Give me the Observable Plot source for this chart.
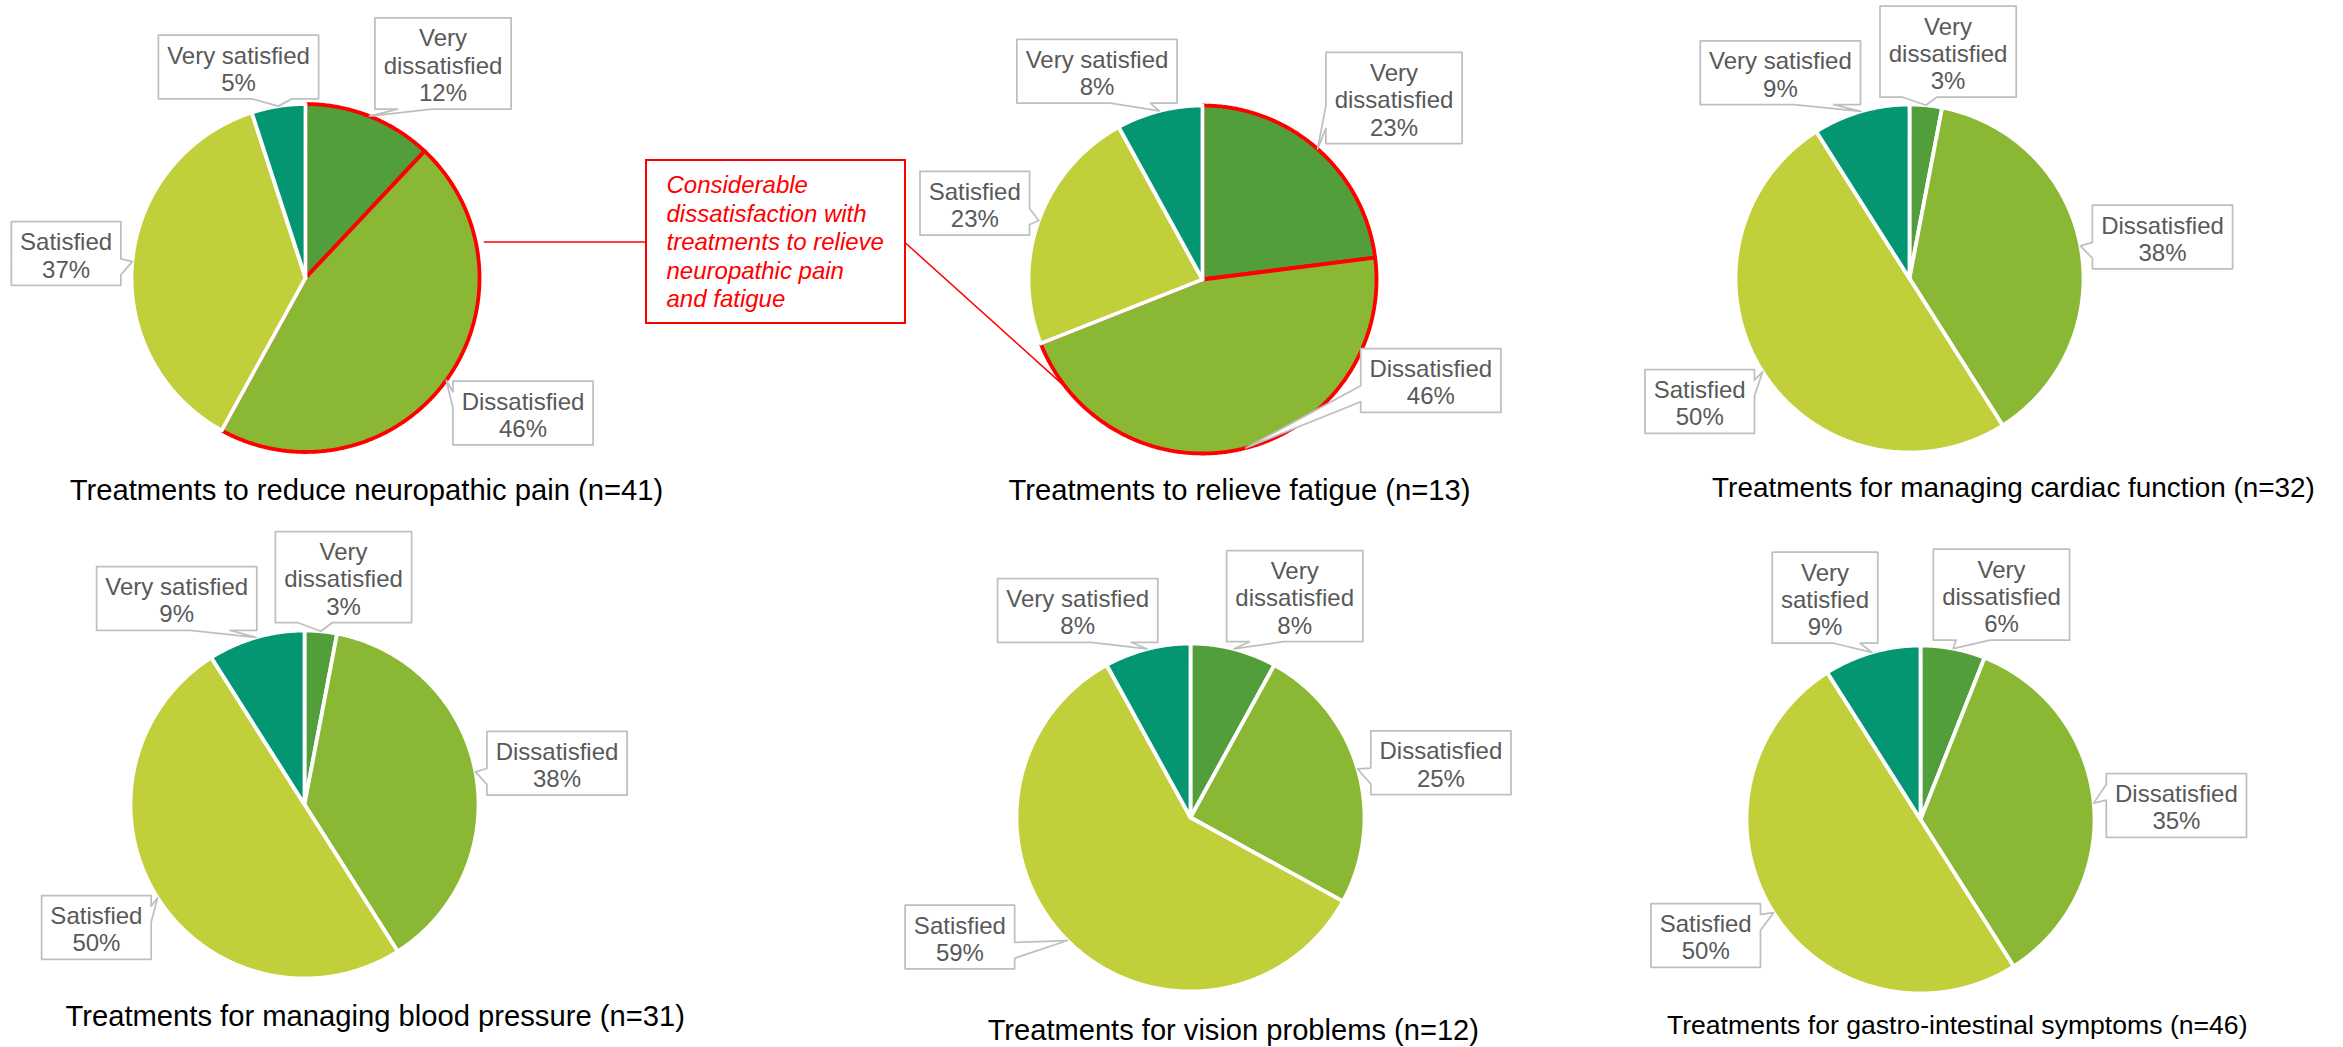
<!DOCTYPE html>
<html>
<head>
<meta charset="utf-8">
<script src="https://cdn.jsdelivr.net/npm/d3@7"></script>
<script src="https://cdn.jsdelivr.net/npm/@observablehq/plot@0.6"></script>
<style>
  html, body { margin: 0; padding: 0; background: #ffffff; }
  #chart { width: 2343px; height: 1047px; overflow: hidden; }
</style>
</head>
<body>
<div id="chart"></div>
<script>
// ---------------- DATA ----------------
const categories = ["Very dissatisfied", "Dissatisfied", "Satisfied", "Very satisfied"];
const treatments = [
  "Treatments to reduce neuropathic pain",
  "Treatments to relieve fatigue",
  "Treatments for managing cardiac function",
  "Treatments for managing blood pressure",
  "Treatments for vision problems",
  "Treatments for gastro-intestinal symptoms"
];
const sampleSizes = [41, 13, 32, 31, 12, 46];
const veryDissatisfied = [12, 23, 3, 3, 8, 6];
const dissatisfied = [46, 46, 38, 38, 25, 35];
const satisfied = [37, 23, 50, 50, 59, 50];
const verySatisfied = [5, 8, 9, 9, 8, 9];
const annotationLines = ["Considerable", "dissatisfaction with", "treatments to relieve", "neuropathic pain", "and fatigue"];

// ---------------- LAYOUT & STYLE ----------------
const W = 2343, H = 1047;
const FONT = "'Liberation Sans', Arial, Helvetica, sans-serif";
const colors = ["#529E3A", "#8BB834", "#C1CF3B", "#049672"];
const pieCenters = [[305, 277.5], [1202, 279], [1909, 278], [304, 804], [1190, 817], [1920, 819]];
const radius = 174;
const highlightedPies = [0, 1];
const highlightedCats = [0, 1];
// label box centre offsets from pie centre (px), order: VD, D, S, VS
const labelBoxOffsets = [
  [[137.5, -214.5], [217.5, 135], [-239.4, -24.4], [-67, -211]],
  [[191.5, -181.5], [228.3, 101], [-227.7, -76.3], [-105.5, -208.2]],
  [[38.6, -226.8], [253, -41.5], [-209.8, 122.9], [-129.1, -205.8]],
  [[39, -227.3], [252.5, -41.3], [-208.1, 123], [-127.8, -206]],
  [[104.2, -221.3], [250.4, -54.7], [-230.6, 119.5], [-112.8, -207.1]],
  [[81, -224.9], [255.9, -14], [-214.8, 116], [-95.5, -221.8]]
];
const labelWrap = [
  [1, 0, 0, 0], [1, 0, 0, 0], [1, 0, 0, 0], [1, 0, 0, 0], [1, 0, 0, 0], [1, 0, 0, 1]
];
// title: dx from pie centre, baseline dy from pie centre, font size
const titleLayout = [[61, 221.5, 29.2], [37, 220, 29.2], [104, 218, 27.9], [70.7, 221, 29.2], [42.8, 222, 29.1], [36.7, 214, 26.6]];
const annBox = {x1: 646, x2: 905, y1: 160, y2: 323, textX: 666, textY: 172.5};
const connectorEndAngle = 231.6; // degrees clockwise from 12 o'clock on pie 2

const LABEL_FS = 24, LABEL_LH = 1.14;
const SLICE_STROKE = 3.8;

// ---------------- BUILD ----------------
const series = [veryDissatisfied, dissatisfied, satisfied, verySatisfied];
const pie = d3.pie().sort(null).value(d => d);

const ctx = document.createElement("canvas").getContext("2d");
ctx.font = `${LABEL_FS}px ${FONT}`;

const slicesRed = [], slicesWhite = [], callouts = [], labels = [], titles = [];

function pt(cx, cy, r, a) { return [cx + r * Math.sin(a), cy - r * Math.cos(a)]; }

function calloutPath(bx, by, w, h, tx, ty) {
  const cx = bx + w / 2, cy = by + h / 2;
  const dxPos = (tx - cx) / w, dyPos = (ty - cy) / h;
  const vertical = Math.abs(dyPos) > Math.abs(dxPos);
  const xg1 = dxPos > 0 ? 7 : 2, xg2 = dxPos > 0 ? 10 : 5;
  const yg1 = dyPos > 0 ? 7 : 2, yg2 = dyPos > 0 ? 10 : 5;
  const x1 = bx + w * xg1 / 12, x2 = bx + w * xg2 / 12;
  const y1 = by + h * yg1 / 12, y2 = by + h * yg2 / 12;
  const l = bx, r = bx + w, t = by, b = by + h;
  const inside = tx >= l && tx <= r && ty >= t && ty <= b;
  const p = [[l, t]];
  if (!inside && vertical && dyPos < 0) p.push([x1, t], [tx, ty], [x2, t]);
  p.push([r, t]);
  if (!inside && !vertical && dxPos > 0) p.push([r, y1], [tx, ty], [r, y2]);
  p.push([r, b]);
  if (!inside && vertical && dyPos > 0) p.push([x2, b], [tx, ty], [x1, b]);
  p.push([l, b]);
  if (!inside && !vertical && dxPos < 0) p.push([l, y2], [tx, ty], [l, y1]);
  p.push([l, t]);
  return p;
}

treatments.forEach((name, p) => {
  const [cx, cy] = pieCenters[p];
  const values = series.map(s => s[p]);
  const arcs = pie(values);
  arcs.forEach((arc, j) => {
    const key = `${p}-${j}`;
    const rows = [];
    rows.push({key, cat: categories[j], x: cx, y: cy});
    const steps = Math.max(2, Math.ceil((arc.endAngle - arc.startAngle) / (Math.PI / 360)));
    for (let k = 0; k <= steps; k++) {
      const a = arc.startAngle + (arc.endAngle - arc.startAngle) * k / steps;
      const [x, y] = pt(cx, cy, radius, a);
      rows.push({key, cat: categories[j], x, y});
    }
    rows.push({key, cat: categories[j], x: cx, y: cy});
    const red = highlightedPies.includes(p) && highlightedCats.includes(j);
    (red ? slicesRed : slicesWhite).push(...rows);

    // label
    const mid = (arc.startAngle + arc.endAngle) / 2;
    const [tx, ty] = pt(cx, cy, radius, mid);
    const words = categories[j];
    const nameLines = labelWrap[p][j] ? words.split(" ") : [words];
    const lines = [...nameLines, `${values[j]}%`];
    const w = d3.max(lines, s => ctx.measureText(s).width) + 17.5;
    const h = lines.length * LABEL_FS * LABEL_LH + 9;
    const [ox, oy] = labelBoxOffsets[p][j];
    const bcx = cx + ox, bcy = cy + oy;
    calloutPath(bcx - w / 2, bcy - h / 2, w, h, tx, ty).forEach(([x, y]) => callouts.push({key, x, y}));
    labels.push({x: bcx, y: bcy, text: lines.join("\n")});
  });
  const [tdx, tdy, tfs] = titleLayout[p];
  titles.push({x: cx + tdx, y: cy + tdy, fs: tfs, text: `${name} (n=${sampleSizes[p]})`});
});

// connectors for the annotation
const annCy = (annBox.y1 + annBox.y2) / 2;
const [c1x, c1y] = pieCenters[0];
const c1start = c1x + Math.sqrt(radius * radius - (annCy - c1y) ** 2) + 8;
const [c2x, c2y] = pieCenters[1];
const [e2x, e2y] = pt(c2x, c2y, radius, connectorEndAngle * Math.PI / 180);
const connectors = [
  {x1: c1start, y1: annCy, x2: annBox.x1, y2: annCy},
  {x1: annBox.x2, y1: annCy + 1, x2: e2x, y2: e2y}
];

const chart = Plot.plot({
  width: W,
  height: H,
  margin: 0,
  style: {background: "#ffffff", fontFamily: FONT, overflow: "visible"},
  x: {domain: [0, W], range: [0, W], axis: null},
  y: {domain: [0, H], range: [0, H], axis: null},
  color: {domain: categories, range: colors},
  marks: [
    Plot.link(connectors, {x1: "x1", y1: "y1", x2: "x2", y2: "y2", stroke: "#FF0000", strokeWidth: 1.5}),
    Plot.line(slicesRed, {x: "x", y: "y", z: "key", fill: "cat", stroke: "#FF0000", strokeWidth: SLICE_STROKE, strokeLinejoin: "round", curve: "linear"}),
    Plot.line(slicesWhite, {x: "x", y: "y", z: "key", fill: "cat", stroke: "#FFFFFF", strokeWidth: SLICE_STROKE, strokeLinejoin: "round", curve: "linear"}),
    Plot.line(callouts, {x: "x", y: "y", z: "key", fill: "#FFFFFF", stroke: "#BFBFBF", strokeWidth: 1.75, strokeLinejoin: "round", curve: "linear"}),
    Plot.text(labels, {x: "x", y: "y", text: "text", fill: "#595959", fontSize: LABEL_FS, lineHeight: LABEL_LH, fontFamily: FONT, textAnchor: "middle", dy: 1.5}),
    Plot.rect([annBox], {x1: "x1", x2: "x2", y1: "y1", y2: "y2", fill: "#FFFFFF", stroke: "#FF0000", strokeWidth: 2}),
    Plot.text([annotationLines.join("\n")], {x: () => annBox.textX, y: () => annBox.textY, text: d => d, fill: "#FF0000", fontSize: 24, fontStyle: "italic", lineHeight: 28.5 / 24, lineAnchor: "top", textAnchor: "start", fontFamily: FONT}),
    Plot.text(titles, {x: "x", y: "y", text: "text", fontSize: d => d.fs, fill: "#000000", lineAnchor: "bottom", textAnchor: "middle", fontFamily: FONT})
  ]
});
document.getElementById("chart").appendChild(chart);
</script>
</body>
</html>
